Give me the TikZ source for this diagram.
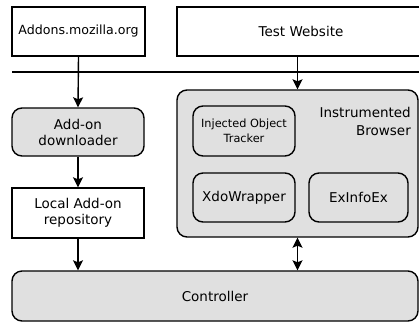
\documentclass[tikz,border=0pt]{standalone}
\usepackage{fontspec}
\setmainfont{DejaVu Sans}
\usetikzlibrary{arrows.meta}
\tikzset{
  sq/.style={draw, line width=1.4pt, fill=white, align=center, inner sep=1pt, font=\fontsize{13.5}{16}\selectfont},
  rnd/.style={draw, line width=1.4pt, fill=black!12, rounded corners=10pt, align=center, inner sep=1pt, font=\fontsize{13.5}{16}\selectfont},
  arr/.style={line width=1.4pt, -{Stealth[length=10pt,width=10pt,inset=2pt]}},
  darr/.style={line width=1.4pt, {Stealth[length=10pt,width=10pt,inset=2pt]}-{Stealth[length=10pt,width=10pt,inset=2pt]}}
}
\begin{document}
\begin{tikzpicture}[x=1pt,y=-1pt]
\useasboundingbox (0,0) rectangle (419,322);
\clip (0,0) rectangle (419,322);
\node[sq, minimum width=133pt, minimum height=49pt, font=\fontsize{12.6}{16}\selectfont] (addons) at (78.5,31.5) {Addons.mozilla.org};
\node[sq, minimum width=248pt, minimum height=49pt] (test) at (301,31.5) {Test Website};
\coordinate (l1) at (12,72);
\coordinate (l2) at (425,72);
\draw[line width=1.4pt] (l1) -- (l2);
\node[rnd, minimum width=132pt, minimum height=48pt] (down) at (78,132) {Add-on\\downloader};
\node[sq, minimum width=132pt, minimum height=50pt] (repo) at (78,213) {Local Add-on\\repository};
\node[rnd, minimum width=406pt, minimum height=50pt] (ctrl) at (215,296) {Controller};
\node[rnd, minimum width=241pt, minimum height=147pt] (browser) at (297.5,163.5) {};
\node[rnd, minimum width=102pt, minimum height=50pt, font=\fontsize{11.3}{15}\selectfont] (tracker) at (244,131) {Injected Object\\Tracker};
\node[rnd, minimum width=102pt, minimum height=49pt] (xdo) at (244,197.5) {XdoWrapper};
\node[rnd, minimum width=99pt, minimum height=49pt] (exinfo) at (358.5,197.5) {ExInfoEx};
\node[align=right, anchor=north east, inner sep=0pt, font=\fontsize{13.5}{18}\selectfont] (lbl) at (411,107) {Instrumented\\Browser};
\draw[arr] (addons.south) -- (down.north);
\draw[arr] (down.south) -- (repo.north);
\draw[arr] (repo.south) -- (ctrl.north -| repo.south);
\draw[arr] (test.south -| browser.north) -- (browser.north);
\draw[darr] (browser.south) -- (ctrl.north -| browser.south);
\end{tikzpicture}
\end{document}
